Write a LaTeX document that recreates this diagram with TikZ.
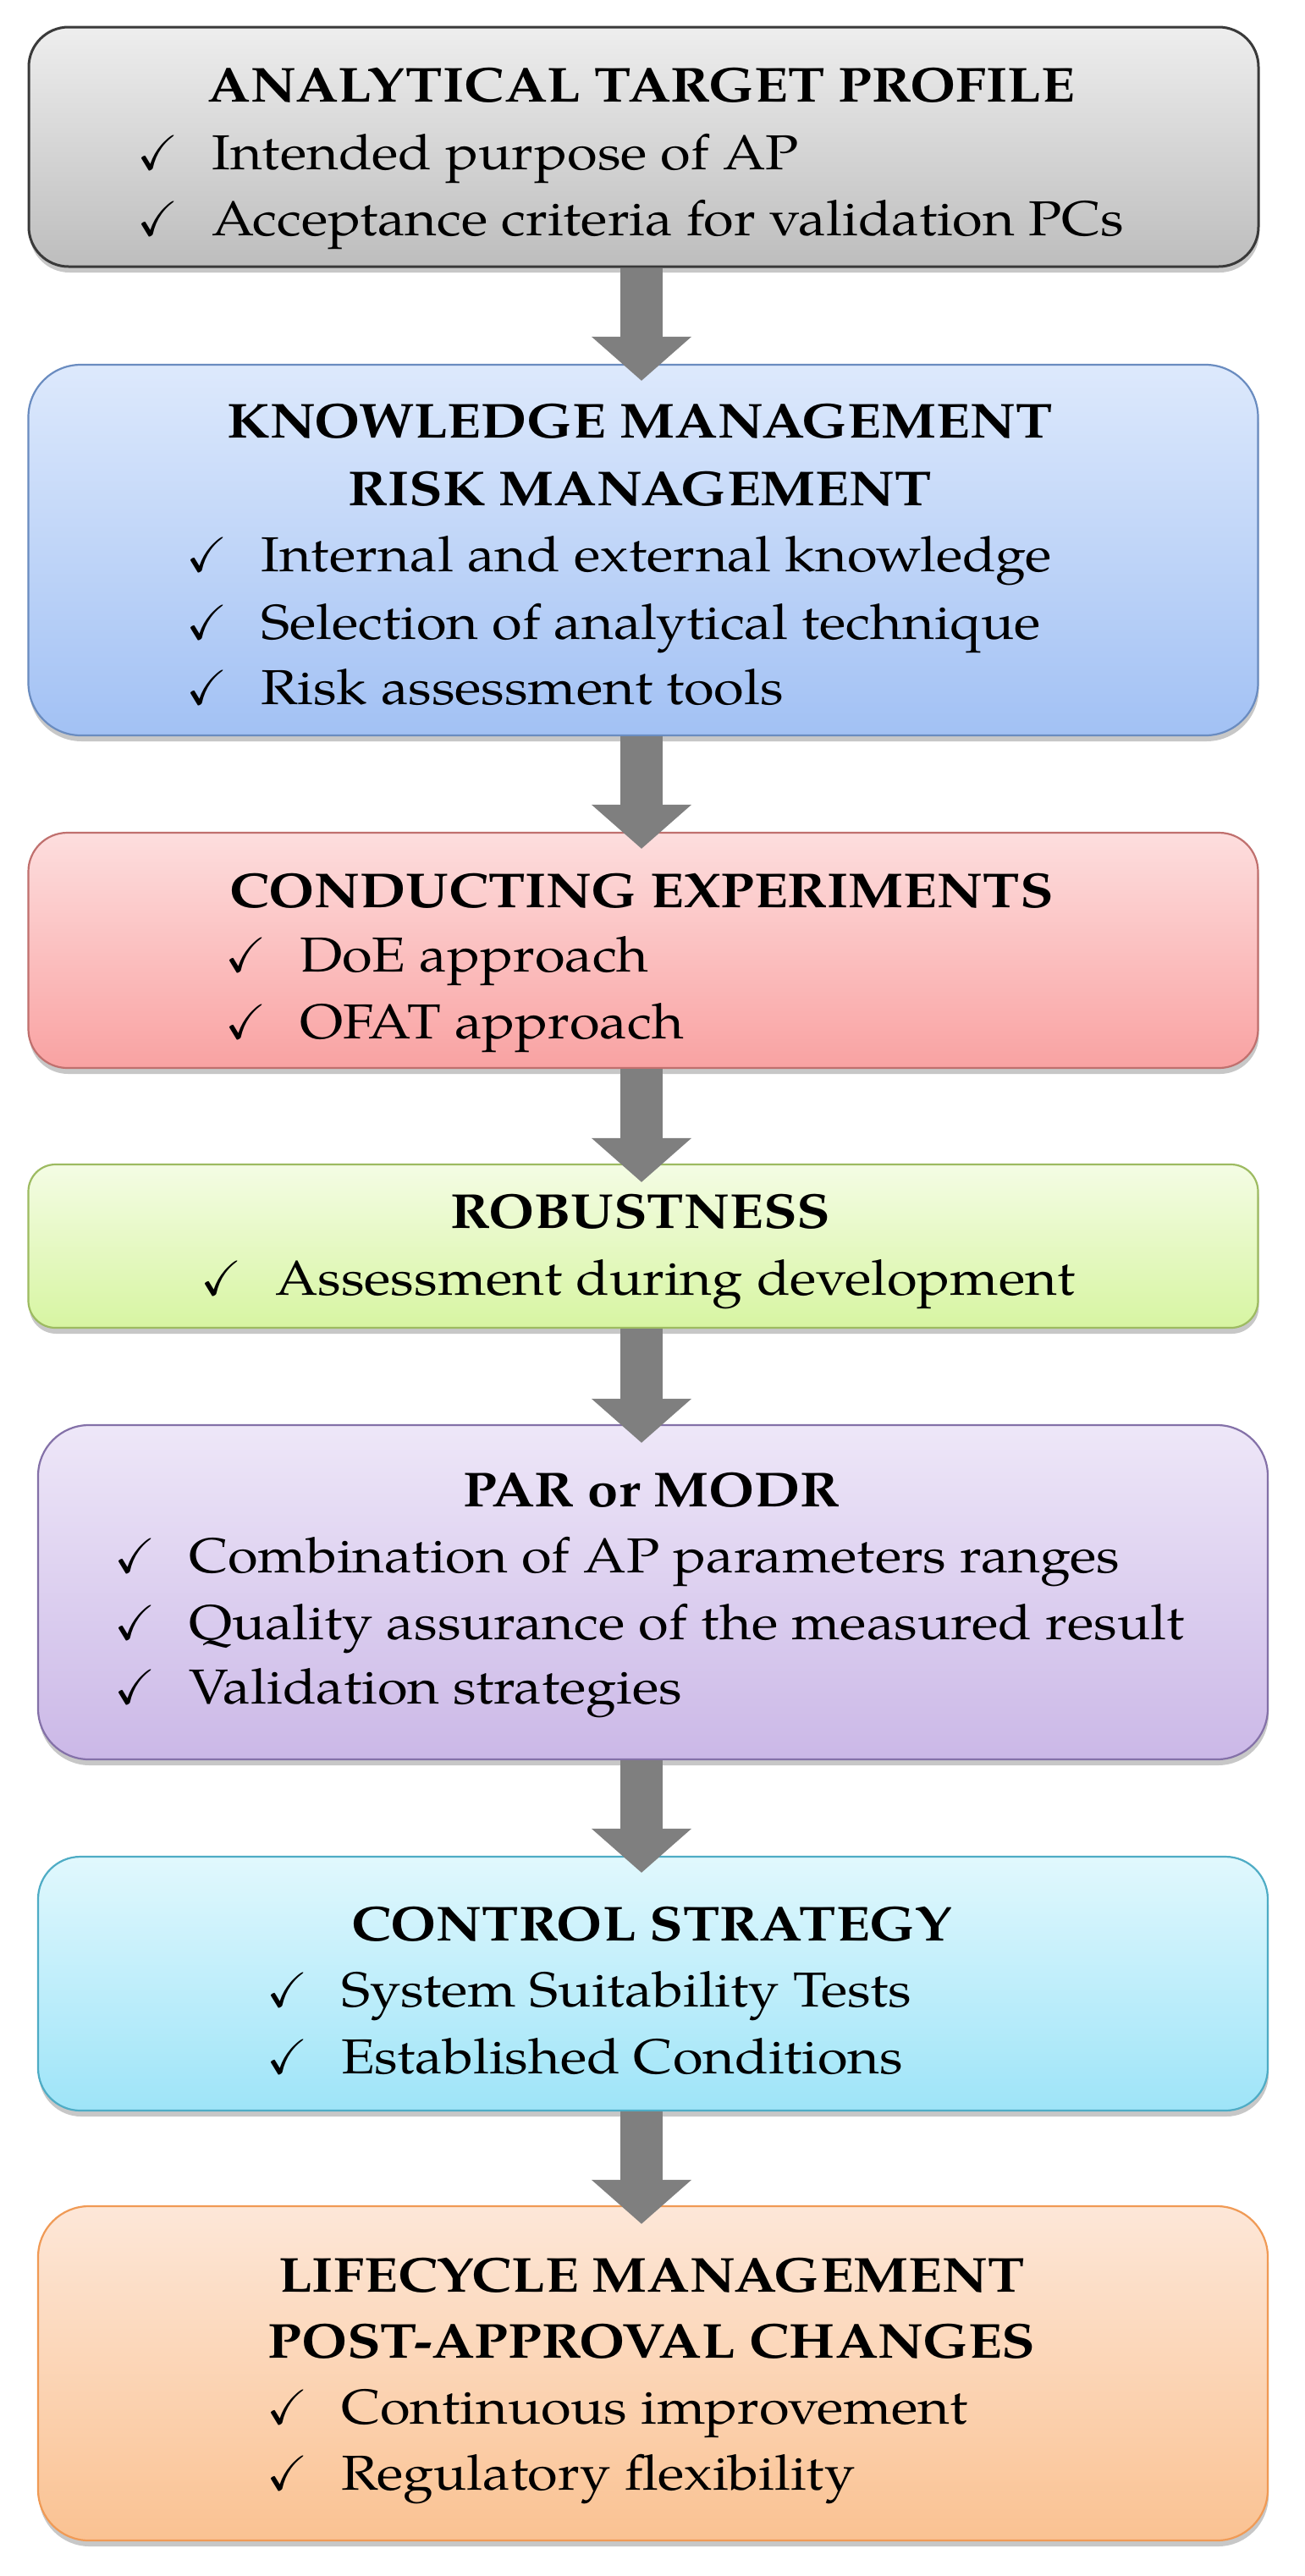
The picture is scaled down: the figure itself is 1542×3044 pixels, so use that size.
\documentclass[tikz,border=0pt]{standalone}
\usepackage{fontspec}
\usepackage{amssymb}
\setmainfont{texgyrepagella}[Extension=.otf, UprightFont=*-regular, BoldFont=*-bold, ItalicFont=*-italic, BoldItalicFont=*-bolditalic, FakeStretch=1.12]
\usetikzlibrary{shadows,arrows.meta,calc}

\definecolor{gAt}{HTML}{EEEEEE}\definecolor{gAb}{HTML}{BDBDBD}\definecolor{gAd}{HTML}{3A3A3A}
\definecolor{gBt}{HTML}{DDE9FC}\definecolor{gBb}{HTML}{A2C1F4}\definecolor{gBd}{HTML}{6A8CC0}
\definecolor{gCt}{HTML}{FDDEDE}\definecolor{gCb}{HTML}{F9A2A2}\definecolor{gCd}{HTML}{C0706E}
\definecolor{gDt}{HTML}{F4FCE4}\definecolor{gDb}{HTML}{D7F5A2}\definecolor{gDd}{HTML}{9DBB61}
\definecolor{gEt}{HTML}{EEE7F8}\definecolor{gEb}{HTML}{CBB8E7}\definecolor{gEd}{HTML}{8471A8}
\definecolor{gFt}{HTML}{E1F8FD}\definecolor{gFb}{HTML}{9EE4F8}\definecolor{gFd}{HTML}{4EACC5}
\definecolor{gGt}{HTML}{FDE7D8}\definecolor{gGb}{HTML}{FAC292}\definecolor{gGd}{HTML}{F09A55}
\definecolor{arrowgray}{HTML}{7F7F7F}

\newcommand\titlefont{\fontsize{58}{70}\selectfont\bfseries}
\newcommand\itemfont{\fontsize{58}{70}\selectfont}
\newcommand\ck{\llap{\makebox[88pt][l]{$\checkmark$}}}

\tikzset{
  stagebox/.style={rectangle, line width=2.2pt, minimum width=1453pt, inner sep=0pt,
    drop shadow={shadow xshift=1pt, shadow yshift=-7pt, opacity=0.22, fill=black}},
  ttl/.style={anchor=base, inner sep=0pt, font=\titlefont},
  itm/.style={anchor=base west, inner sep=0pt, font=\itemfont},
  bigarrow/.style={color=arrowgray, line width=50pt, -{Triangle[width=115pt,length=52pt]}}
}

\begin{document}
\begin{tikzpicture}[x=1pt,y=-1pt]
\fill[white] (0,0) rectangle (1542,3044);
\useasboundingbox (0,0) rectangle (1542,3044);

% boxes
\node[stagebox, minimum height=283pt, rounded corners=47pt, top color=gAt, bottom color=gAb, draw=gAd, line width=3pt] (b1) at (760.5,173.5) {};
\node[stagebox, minimum height=438pt, rounded corners=62pt, top color=gBt, bottom color=gBb, draw=gBd] (b2) at (760,650) {};
\node[stagebox, minimum height=278pt, rounded corners=46pt, top color=gCt, bottom color=gCb, draw=gCd] (b3) at (760,1123) {};
\node[stagebox, minimum height=193pt, rounded corners=32pt, top color=gDt, bottom color=gDb, draw=gDd] (b4) at (760,1472.5) {};
\node[stagebox, minimum height=395pt, rounded corners=60pt, top color=gEt, bottom color=gEb, draw=gEd] (b5) at (771.5,1881.5) {};
\node[stagebox, minimum height=300pt, rounded corners=50pt, top color=gFt, bottom color=gFb, draw=gFd] (b6) at (771.5,2344) {};
\node[stagebox, minimum height=395pt, rounded corners=60pt, top color=gGt, bottom color=gGb, draw=gGd] (b7) at (771.5,2804.5) {};

% arrows
\coordinate (ax) at (758,0);
\draw[bigarrow] (b1.south -| ax) -- ($(b2.north -| ax)+(0,20)$);
\draw[bigarrow] (b2.south -| ax) -- ($(b3.north -| ax)+(0,20)$);
\draw[bigarrow] (b3.south -| ax) -- ($(b4.north -| ax)+(0,22)$);
\draw[bigarrow] (b4.south -| ax) -- ($(b5.north -| ax)+(0,22)$);
\draw[bigarrow] (b5.south -| ax) -- ($(b6.north -| ax)+(0,20)$);
\draw[bigarrow] (b6.south -| ax) -- ($(b7.north -| ax)+(0,22)$);

% texts box 1
\node[ttl] (t1) at (758,120) {ANALYTICAL TARGET PROFILE};
\node[itm] (i1a) at (250,200) {\ck Intended purpose of AP};
\node[itm] (i1b) at (250,278) {\ck Acceptance criteria for validation PCs};
% box 2
\node[ttl] (t2a) at (756,517) {KNOWLEDGE MANAGEMENT};
\node[ttl] (t2b) at (756,597) {RISK MANAGEMENT};
\node[itm] (i2a) at (308,675) {\ck Internal and external knowledge};
\node[itm] (i2b) at (308,755) {\ck Selection of analytical technique};
\node[itm] (i2c) at (308,832) {\ck Risk assessment tools};
% box 3
\node[ttl] (t3) at (758,1072) {CONDUCTING EXPERIMENTS};
\node[itm] (i3a) at (354,1148) {\ck DoE approach};
\node[itm] (i3b) at (354,1227) {\ck OFAT approach};
% box 4
\node[ttl] (t4) at (757,1451) {ROBUSTNESS};
\node[itm] (i4a) at (325,1530) {\ck Assessment during development};
% box 5
\node[ttl] (t5) at (770,1780) {PAR or MODR};
\node[itm] (i5a) at (223,1858) {\ck Combination of AP parameters ranges};
\node[itm] (i5b) at (223,1937) {\ck Quality assurance of the measured result};
\node[itm] (i5c) at (223,2013) {\ck Validation strategies};
% box 6
\node[ttl] (t6) at (770,2293) {CONTROL STRATEGY};
\node[itm] (i6a) at (403,2371) {\ck System Suitability Tests};
\node[itm] (i6b) at (403,2450) {\ck Established Conditions};
% box 7
\node[ttl] (t7a) at (770,2708) {LIFECYCLE MANAGEMENT};
\node[ttl] (t7b) at (770,2786) {POST-APPROVAL CHANGES};
\node[itm] (i7a) at (403,2864) {\ck Continuous improvement};
\node[itm] (i7b) at (403,2942) {\ck Regulatory flexibility};
\end{tikzpicture}
\end{document}
